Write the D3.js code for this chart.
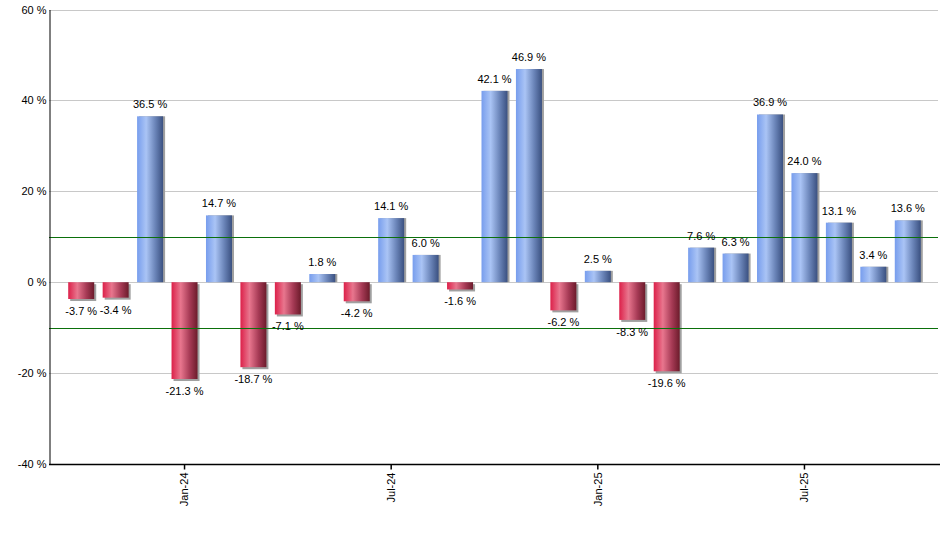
<!DOCTYPE html>
<html lang="en">
<head>
    <meta charset="UTF-8">
    <title>Monthly returns</title>
    <script src="https://cdn.jsdelivr.net/npm/d3@7"></script>
    <style>
        body { margin: 0; background: #fff; }
        text { font-family: "Liberation Sans", Arial, sans-serif; font-size: 11px; fill: #000; }
    </style>
</head>
<body>
<script>
    // data
    var months = ['Oct-23', 'Nov-23', 'Dec-23', 'Jan-24', 'Feb-24', 'Mar-24', 'Apr-24', 'May-24', 'Jun-24',
            'Jul-24', 'Aug-24', 'Sep-24', 'Oct-24', 'Nov-24', 'Dec-24', 'Jan-25', 'Feb-25', 'Mar-25',
            'Apr-25', 'May-25', 'Jun-25', 'Jul-25', 'Aug-25', 'Sep-25', 'Oct-25']
    var returns = [-3.7, -3.4, 36.5, -21.3, 14.7, -18.7, -7.1, 1.8, -4.2, 14.1, 6.0, -1.6, 42.1, 46.9,
            -6.2, 2.5, -8.3, -19.6, 7.6, 6.3, 36.9, 24.0, 13.1, 3.4, 13.6]
    var yTicks = [-40, -20, 0, 20, 40, 60]
    var xTickLabels = ['Jan-24', 'Jul-24', 'Jan-25', 'Jul-25']
    var refLines = [10, -10]

    var width = 940
        height = 550
        plotLeft = 49
        plotRight = 940
        plotTop = 9.5
        plotBottom = 464

    var svg = d3.select('body').append('svg')
            .attr('width', width)
            .attr('height', height)

    var defs = svg.append('defs')
    function addGrad(id, stops) {
        var g = defs.append('linearGradient').attr('id', id)
            .attr('x1', '0%').attr('x2', '100%').attr('y1', '0%').attr('y2', '0%')
        stops.forEach(s => g.append('stop').attr('offset', s[0]).attr('stop-color', s[1]))
    }
    addGrad('gBlue', [['0%', '#779ded'], ['35%', '#aac4f5'], ['70%', '#6a84b8'], ['100%', '#3a5080']])
    addGrad('gRed', [['0%', '#dc2049'], ['35%', '#e8768e'], ['70%', '#a63a55'], ['100%', '#6c1b2b']])

    var x = d3.scaleBand()
            .domain(months)
            .range([64, 925])
            .paddingInner(0.245)
            .paddingOuter(0.1225)
        y = d3.scaleLinear()
            .domain([-40, 60])
            .range([plotBottom, plotTop])

    // gridlines
    svg.append('g').selectAll('line')
        .data(yTicks.filter(d => d > -40))
        .enter().append('line')
        .attr('x1', plotLeft).attr('x2', plotRight - 2)
        .attr('y1', d => Math.round(y(d)) + 0.5).attr('y2', d => Math.round(y(d)) + 0.5)
        .attr('stroke', '#c8c8c8')

    // bars (shadow + gradient)
    var bars = svg.append('g').selectAll('g')
        .data(returns)
        .enter().append('g')
    bars.append('rect')
        .attr('x', (d, i) => x(months[i]) + 2)
        .attr('y', d => Math.min(y(d), y(0)) + (d < 0 ? 2 : 0))
        .attr('width', x.bandwidth())
        .attr('height', d => Math.abs(y(d) - y(0)))
        .attr('fill', '#a0a0a0')
    bars.append('rect')
        .attr('x', (d, i) => x(months[i]))
        .attr('y', d => Math.min(y(d), y(0)))
        .attr('width', x.bandwidth())
        .attr('height', d => Math.abs(y(d) - y(0)))
        .attr('fill', d => d >= 0 ? 'url(#gBlue)' : 'url(#gRed)')

    // reference lines
    svg.append('g').selectAll('line')
        .data(refLines)
        .enter().append('line')
        .attr('x1', plotLeft).attr('x2', plotRight - 2)
        .attr('y1', d => Math.round(y(d)) + 0.5).attr('y2', d => Math.round(y(d)) + 0.5)
        .attr('stroke', '#0b700b')

    // value labels
    svg.append('g').selectAll('text')
        .data(returns)
        .enter().append('text')
        .attr('x', (d, i) => x(months[i]) + x.bandwidth() / 2)
        .attr('y', d => d >= 0 ? y(d) - 8 : y(d) + 16)
        .attr('text-anchor', 'middle')
        .text(d => d.toFixed(1) + ' %')

    // axes
    var leftAxis = d3.axisLeft(y)
            .tickValues(yTicks)
            .tickSize(0)
            .tickPadding(3)
            .tickFormat(d => d + ' %')
    var gy = svg.append('g')
        .attr('transform', `translate(${plotLeft + 0.5}, 0)`)
        .call(leftAxis)
    gy.select('.domain').attr('stroke', '#000')
    gy.selectAll('text').style('font-family', '"Liberation Sans", Arial, sans-serif').style('font-size', '11px')

    var bottomAxis = d3.axisBottom(x)
            .tickValues(xTickLabels)
            .tickSize(5)
            .tickSizeOuter(0)
    var gx = svg.append('g')
        .attr('transform', `translate(0, ${Math.round(plotBottom) + 0.5})`)
        .call(bottomAxis)
    gx.select('.domain').attr('d', `M${plotLeft},0H${plotRight}`).attr('stroke', '#000').attr('stroke-width', 1.5)
    gx.selectAll('.tick line').attr('stroke', '#000').attr('stroke-width', 1.5)
    gx.selectAll('text')
        .style('font-family', '"Liberation Sans", Arial, sans-serif').style('font-size', '11px')
        .attr('transform', 'rotate(-90)')
        .attr('text-anchor', 'end')
        .attr('x', -8)
        .attr('y', 0)
        .attr('dy', '0.35em')
</script>
</body>
</html>
